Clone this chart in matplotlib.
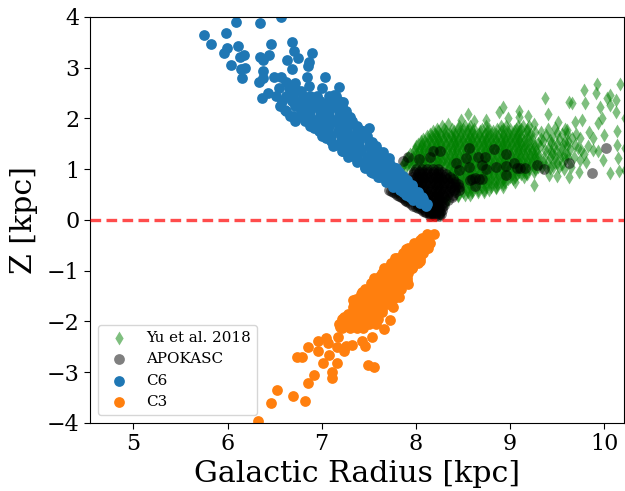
import matplotlib
matplotlib.use('Agg')
import matplotlib.pyplot as plt

# points: scattered ones as (R, Z), crowded ones as rows of R per Z
c6_sparse = [(5.75,3.65),(5.82,3.47),(5.98,3.69),(6.09,3.90),(6.34,3.88),(6.57,4.0),(6.11,3.43),(5.99,3.38),
             (5.96,3.29),(6.46,3.46),(6.69,3.51),(6.71,3.32),(6.75,3.19),(6.90,3.29),(6.87,3.12),(6.85,3.04),
             (6.63,3.15),(6.68,2.98),(6.17,3.25),(6.13,3.22),(6.44,3.25),(6.35,3.21),(6.38,3.15),(6.04,3.05),
             (6.14,2.97),(6.19,2.99),(6.15,2.79),(6.38,2.94),(6.38,2.79),(6.33,2.71),(6.49,2.81),(6.57,2.81),
             (6.84,2.81),(6.87,2.64),(7.03,2.81),(7.00,2.60),(7.18,2.62),(7.13,2.46),(6.43,2.51),(6.37,2.40),
             (7.23,2.33),(7.50,1.81),
             (6.61,2.17),(6.70,2.05),(6.82,1.99),(6.92,1.81),(7.05,1.62),(7.14,1.48),(7.23,1.36),(7.33,1.27),
             (7.46,1.02),(7.55,0.93),(7.62,0.85),(7.69,0.76),(7.76,0.68),(7.83,0.59),(7.90,0.49),(7.97,0.40),(8.04,0.33),
             (7.30,2.03),(7.41,1.77),(7.53,1.54),(7.65,1.34),(7.72,1.22),(7.79,1.02),(7.86,0.87),(7.91,0.78),(7.96,0.68),
             (8.02,0.55),(8.08,0.42),(8.12,0.32),
             (6.80,2.45),(6.88,2.45),(6.78,2.54),(6.72,2.70),(6.62,2.72),(6.96,2.36),(7.12,2.34)]
c6_core_z = [2.60,2.45,2.35,2.25,2.15,2.05,1.95,1.85,1.75,1.65,1.55,1.45,1.35,1.25,1.15,1.05,0.95,0.85,0.75,0.65,0.55,0.45,0.35,0.28]
c6_core_r = [[6.55,6.65,6.72],[6.52,6.62,6.70,6.95,7.08,7.15],[6.58,6.68,6.78,6.88,6.98,7.08,7.18],
             [6.56,6.72,6.82,6.92,7.02,7.12,7.22],[6.62,6.78,6.88,6.98,7.08,7.18,7.26],[6.66,6.78,6.88,6.98,7.08,7.18,7.28],
             [6.72,6.82,6.92,7.02,7.12,7.22,7.32],[6.88,6.98,7.08,7.18,7.28,7.38],[6.97,7.07,7.17,7.27,7.37,7.44],
             [7.00,7.10,7.20,7.30,7.40,7.48],[7.10,7.20,7.30,7.40,7.50],[7.12,7.20,7.30,7.40,7.50,7.58],
             [7.22,7.32,7.42,7.52,7.60],[7.28,7.38,7.48,7.58,7.66],[7.38,7.46,7.56,7.64,7.72],[7.46,7.54,7.62,7.70,7.76],
             [7.52,7.60,7.68,7.76,7.82],[7.60,7.68,7.76,7.84],[7.68,7.76,7.84,7.90],[7.76,7.84,7.92,7.96],
             [7.86,7.94,8.00],[7.94,8.02,8.06],[8.04,8.08],[8.11]]

c3_sparse = [(6.32,-3.96),(6.46,-3.60),(6.53,-3.34),(6.70,-3.47),(6.82,-3.56),(6.86,-3.22),(6.92,-3.05),(7.11,-3.11),
             (7.11,-2.99),(7.16,-2.81),(7.01,-2.81),(7.08,-2.66),(7.49,-2.86),(7.56,-2.90),(6.74,-2.70),(6.79,-2.69),
             (6.86,-2.50),(6.96,-2.59),(6.96,-2.38),(7.05,-2.32),(7.07,-2.43),(7.16,-2.50),(7.24,-2.59),(7.26,-2.48),
             (7.32,-2.46),(7.17,-2.31),(7.46,-2.48),(7.43,-2.38),(7.53,-2.30),(7.66,-2.15),(7.73,-1.98),(7.76,-1.72),
             (7.82,-1.52),(7.92,-1.27),
             (7.19,-2.10),(7.24,-1.92),(7.33,-1.72),(7.33,-1.58),(7.43,-1.42),(7.55,-1.26),(7.62,-1.10),(7.72,-0.92),
             (7.78,-0.75),(7.90,-0.58),(8.04,-0.40),(8.12,-0.32),(8.15,-0.45),(8.13,-0.55),(8.04,-0.80),(7.96,-0.95),
             (7.91,-1.20),(7.80,-1.42),(7.64,-1.81),(7.58,-1.97),(7.44,-2.10)]
c3_core_z = [-0.28,-0.35,-0.45,-0.55,-0.65,-0.75,-0.85,-0.95,-1.05,-1.15,-1.25,-1.35,-1.45,-1.55,-1.65,-1.75,-1.85,-1.95,-2.05,-2.12]
c3_core_r = [[8.19,8.12],[8.06,8.13],[7.98,8.06,8.13],[7.92,8.00,8.08,8.12],[7.86,7.94,8.02,8.08],[7.80,7.88,7.96,8.04],
             [7.74,7.82,7.90,7.98,8.02],[7.66,7.74,7.82,7.90,7.96],[7.64,7.72,7.80,7.88,7.92],[7.56,7.64,7.72,7.80,7.88,7.91],
             [7.52,7.60,7.68,7.76,7.84,7.90],[7.46,7.54,7.62,7.70,7.78,7.84],[7.42,7.50,7.58,7.66,7.74,7.80],
             [7.36,7.44,7.52,7.60,7.68,7.76],[7.34,7.42,7.50,7.58,7.66,7.72],[7.34,7.42,7.50,7.58,7.64],[7.28,7.36,7.44,7.52,7.60],
             [7.22,7.30,7.38,7.46,7.54,7.60],[7.18,7.26,7.34,7.42,7.50,7.58],[7.22,7.30,7.38,7.44]]

yu_sparse = [(9.37,2.40),(9.40,2.09),(9.51,1.94),(8.88,2.13),(8.93,2.23),(9.09,2.14),(9.19,2.04),(9.25,0.69),(8.85,0.64),
             (9.63,2.33),(9.66,2.30),(9.80,2.31),(9.79,2.56),(9.92,2.68),(9.91,2.51),(10.17,2.68),(10.06,2.46),(10.03,2.40),
             (10.12,2.37),(9.95,2.23),(10.06,2.27),(10.12,2.12),(10.22,2.00),(9.76,1.97),(9.69,1.93),(9.98,2.00),(9.93,1.91),
             (9.84,1.74),(9.61,1.77),(9.50,1.71),(9.33,1.74),(9.26,1.74),(10.00,1.68),(10.14,1.76),(9.88,1.61),(9.74,1.61),
             (9.69,1.48),(9.83,1.45),(9.58,1.54),(9.44,1.51),(9.42,1.25),(9.49,1.35),(9.37,1.38),(10.14,1.48),(10.22,1.41),
             (10.15,1.22),(9.99,1.18),(9.74,1.18),(9.53,1.22),(9.81,1.15),(9.88,1.38),(9.93,1.35),(10.06,0.93),(10.16,0.97),
             (10.22,0.99),(9.63,0.84),(9.73,0.95),(9.50,0.87),(9.41,0.89),(9.17,0.93),(9.34,1.05),(9.78,1.31),(9.60,1.31),
             (9.65,1.05),(9.33,1.60),(9.36,1.25),(9.40,1.40),(9.45,1.65),(9.47,1.15),(9.50,1.50),(9.52,1.05),(9.55,1.40),
             (9.58,1.20),(9.30,1.30),(9.32,1.10),(9.62,1.55),(9.45,1.30),(9.55,1.70),(9.57,1.00),(9.68,1.25),(9.70,1.70),
             (9.40,1.15),(9.60,1.70),(8.55,2.08),(7.80,0.55),(7.90,0.42),(8.00,0.30),(8.15,0.17),(8.26,0.12),(8.33,0.38),
             (8.48,1.98),(8.62,1.95),(8.34,1.90),(8.75,1.98),(9.10,2.02),(8.98,2.00),(9.25,1.90),(9.30,1.52),(8.33,0.42),(8.45,0.48),
             (9.32,1.45),(9.35,1.55),(9.38,1.68),(9.42,1.58),(9.43,1.35),(9.47,1.45),(9.48,1.25),(9.52,1.60),(9.53,1.32),(9.56,1.50),
             (9.57,1.28),(9.35,1.15),(9.38,1.05),(9.42,1.02),(9.46,1.05),(9.50,1.12),(9.55,1.10),(9.60,1.45),(9.62,1.22),(9.64,1.40),
             (9.72,1.42),(9.75,1.38),(9.66,1.62),(9.40,1.80),(9.48,1.82),(9.58,1.80)]
yu_core_z = [1.85,1.80,1.75,1.70,1.65,1.60,1.55,1.50,1.45,1.40,1.35,1.30,1.25,1.20,1.15,1.10,1.05,1.00,0.95,0.90,0.85,0.80,0.75,0.70,0.65,0.60,0.55,0.50]
yu_core_r = [[8.28,8.46,8.52,8.58,8.75,8.90,8.96,9.08,9.14,9.20],
             [8.22,8.30,8.38,8.45,8.50,8.56,8.62,8.70,8.78,8.86,8.93,9.00,9.06,9.12,9.18],
             [8.18,8.24,8.32,8.40,8.47,8.54,8.60,8.68,8.76,8.82,8.90,8.97,9.04,9.10,9.18],
             [8.15,8.20,8.26,8.31,8.36,8.42,8.49,8.55,8.62,8.67,8.73,8.79,8.85,8.92,8.99,9.04,9.10,9.16,9.22],
             [8.12,8.17,8.22,8.27,8.32,8.37,8.42,8.47,8.52,8.57,8.62,8.67,8.72,8.77,8.82,8.87,8.92,8.97,9.02,9.07,9.12,9.20],
             [8.08,8.14,8.19,8.24,8.29,8.35,8.40,8.45,8.50,8.55,8.60,8.65,8.70,8.75,8.80,8.85,8.90,8.95,9.00,9.05,9.10,9.16,9.23],
             [8.05,8.10,8.15,8.20,8.25,8.30,8.35,8.40,8.45,8.50,8.55,8.60,8.65,8.70,8.75,8.80,8.85,8.90,8.95,9.00,9.05,9.10,9.15,9.20],
             [8.02,8.07,8.12,8.17,8.22,8.27,8.32,8.37,8.42,8.47,8.52,8.57,8.62,8.67,8.72,8.77,8.82,8.87,8.92,8.97,9.02,9.07,9.12,9.17,9.24],
             [8.00,8.05,8.10,8.15,8.20,8.25,8.30,8.35,8.40,8.45,8.50,8.55,8.60,8.65,8.70,8.75,8.80,8.85,8.90,8.95,9.00,9.05,9.10,9.15,9.20,9.26],
             [7.99,8.04,8.09,8.14,8.19,8.24,8.29,8.34,8.39,8.44,8.49,8.54,8.59,8.64,8.69,8.74,8.79,8.84,8.89,8.94,8.99,9.04,9.09,9.14,9.19,9.24],
             [7.98,8.03,8.08,8.13,8.18,8.23,8.28,8.33,8.38,8.43,8.48,8.53,8.58,8.63,8.68,8.73,8.78,8.83,8.88,8.93,8.98,9.03,9.08,9.13,9.18,9.23,9.28],
             [7.94,8.00,8.05,8.10,8.15,8.20,8.25,8.30,8.35,8.40,8.45,8.50,8.55,8.60,8.65,8.70,8.75,8.80,8.85,8.90,8.95,9.00,9.05,9.10,9.15,9.20,9.25],
             [7.92,7.97,8.02,8.07,8.12,8.17,8.22,8.27,8.32,8.37,8.42,8.47,8.52,8.57,8.62,8.67,8.72,8.77,8.82,8.87,8.92,8.97,9.02,9.07,9.12,9.17,9.22,9.27,9.30],
             [7.90,7.95,8.00,8.05,8.10,8.15,8.20,8.25,8.30,8.35,8.40,8.45,8.50,8.55,8.60,8.65,8.70,8.75,8.80,8.85,8.90,8.95,9.00,9.05,9.10,9.15,9.20,9.25],
             [7.88,7.93,7.98,8.03,8.08,8.13,8.18,8.23,8.28,8.33,8.38,8.43,8.48,8.53,8.58,8.63,8.68,8.73,8.78,8.83,8.88,8.93,8.98,9.03,9.08,9.13,9.18,9.23,9.30],
             [7.86,7.91,7.96,8.01,8.06,8.11,8.16,8.21,8.26,8.31,8.36,8.41,8.46,8.51,8.56,8.61,8.66,8.71,8.76,8.81,8.86,8.91,8.96,9.01,9.06,9.11,9.16,9.21,9.27],
             [7.85,7.90,7.95,8.00,8.05,8.10,8.15,8.20,8.25,8.30,8.35,8.40,8.45,8.50,8.55,8.60,8.65,8.70,8.75,8.80,8.85,8.90,8.95,9.00,9.05,9.10,9.15,9.20,9.25,9.30],
             [8.35,8.40,8.45,8.50,8.55,8.60,8.65,8.70,8.75,8.80,8.85,8.90,8.95,9.00,9.05,9.10,9.15,9.20,9.26],
             [8.35,8.40,8.45,8.50,8.55,8.60,8.65,8.70,8.75,8.80,8.85,8.90,8.95,9.00,9.05,9.10,9.15,9.25],
             [8.37,8.42,8.47,8.52,8.57,8.62,8.67,8.72,8.77,8.82,8.87,8.92,8.97,9.02,9.07,9.12,9.18],
             [8.35,8.40,8.45,8.50,8.55,8.60,8.65,8.70,8.75,8.80,8.85,8.90,8.95,9.00,9.05,9.15],
             [8.40,8.46,8.52,8.58,8.63,8.68,8.74,8.80,8.86,8.92,8.98,9.03],
             [8.40,8.45,8.50,8.55,8.60,8.65,8.70,8.75,8.80,8.85,8.90,8.95,9.05],
             [8.44,8.50,8.56,8.62,8.68,8.74,8.80,8.86,8.92],
             [8.45,8.50,8.55,8.60,8.65,8.70,8.75,8.80,8.85,8.92],
             [8.48,8.54,8.60,8.66,8.72,8.78],
             [8.50,8.55,8.60,8.66,8.72],
             [8.45,8.52,8.58]]

apokasc_sparse = [(10.02,1.42),(9.87,0.93),(9.63,1.12),(9.36,1.00),(9.29,1.08),(9.16,1.02),(9.07,1.02),(8.96,0.89),(8.96,1.06),
                  (9.04,1.12),(8.85,1.05),(8.96,1.31),(8.83,1.40),(8.75,1.00),(8.73,1.24),(8.66,1.24),(8.70,1.08),(8.56,1.41),
                  (8.53,1.22),(8.26,1.36),(8.18,1.35),(8.15,1.24),(8.03,1.20),(7.92,1.25),(7.86,1.17),(8.43,1.12),(8.56,1.04),
                  (8.70,0.80),(8.63,0.82),(8.57,0.79),(8.63,0.66),(8.46,0.99),(9.11,1.02),(8.67,0.80),(8.60,0.80),
                  (7.72,0.59),(7.76,0.55),(7.80,0.50),(7.84,0.45),(7.88,0.40),(7.92,0.35),(7.97,0.28),(8.02,0.24),(8.08,0.18),(8.15,0.13),
                  (7.74,0.58),(7.78,0.53),(7.82,0.48),(7.86,0.43),(7.90,0.38),(7.95,0.31),(8.00,0.26),(8.05,0.21),(8.11,0.15),(8.18,0.12)]
apokasc_core_z = [1.00,0.95,0.90,0.85,0.80,0.75,0.70,0.65,0.60,0.55,0.50,0.45,0.40,0.35,0.30,0.25,0.20,0.15,0.12,0.08]
apokasc_core_r = [[8.00,8.06,8.12,8.18,8.24],
                  [7.98,8.03,8.08,8.13,8.18,8.23,8.28],
                  [7.97,8.02,8.07,8.12,8.17,8.22,8.27,8.32],
                  [7.96,8.01,8.06,8.11,8.16,8.21,8.26,8.31,8.36],
                  [7.98,8.03,8.08,8.13,8.18,8.23,8.28,8.33,8.39],
                  [8.00,8.05,8.10,8.15,8.20,8.25,8.30,8.35,8.42],
                  [8.00,8.05,8.10,8.15,8.20,8.25,8.30,8.35,8.40,8.45],
                  [8.02,8.07,8.12,8.17,8.22,8.27,8.32,8.37,8.42,8.46],
                  [8.00,8.06,8.11,8.16,8.21,8.26,8.31,8.36,8.41,8.46],
                  [8.00,8.05,8.10,8.15,8.20,8.25,8.30,8.35,8.42],
                  [8.03,8.08,8.13,8.18,8.23,8.28,8.33,8.39],
                  [8.00,8.05,8.10,8.15,8.20,8.25,8.30,8.38],
                  [8.03,8.08,8.13,8.18,8.23,8.28,8.34],
                  [8.00,8.05,8.10,8.15,8.20,8.25,8.30],
                  [8.02,8.07,8.12,8.17,8.22,8.27,8.30],
                  [8.05,8.10,8.15,8.20,8.25,8.28],
                  [8.10,8.15,8.20,8.25,8.28],
                  [8.10,8.15,8.20,8.26],
                  [8.15,8.20,8.25,8.27],
                  [8.15,8.20,8.25]]

x_ticks = [5, 6, 7, 8, 9, 10]
y_ticks = [-4, -3, -2, -1, 0, 1, 2, 3, 4]


def unpack(sparse, core_z, core_r):
    rs = [p[0] for p in sparse]
    zs = [p[1] for p in sparse]
    for z, row in zip(core_z, core_r):
        rs += row
        zs += [z] * len(row)
    return rs, zs


plt.rcParams['font.family'] = 'DejaVu Serif'

fig = plt.figure(figsize=(6.25, 4.91), dpi=100)
ax = fig.add_axes([0.144, 0.1385, 0.8544, 0.8269])

r, z = unpack(yu_sparse, yu_core_z, yu_core_r)
ax.scatter(r, z, s=50, c='green', marker='d', alpha=0.5, linewidths=0, label='Yu et al. 2018')
r, z = unpack(apokasc_sparse, apokasc_core_z, apokasc_core_r)
ax.scatter(r, z, s=60, c='k', alpha=0.5, linewidths=0, label='APOKASC')
r, z = unpack(c6_sparse, c6_core_z, c6_core_r)
ax.scatter(r, z, s=60, c='C0', linewidths=0, label='C6')
r, z = unpack(c3_sparse, c3_core_z, c3_core_r)
ax.scatter(r, z, s=60, c='C1', linewidths=0, label='C3')

ax.axhline(0, color='red', alpha=0.7, lw=2.4, dashes=(3.2, 1.6), zorder=5)

ax.set_xlim(4.54, 10.21)
ax.set_ylim(-4, 4)
ax.set_xticks(x_ticks)
ax.set_yticks(y_ticks)
ax.tick_params(labelsize=16, length=4)
ax.set_xlabel('Galactic Radius [kpc]', fontsize=21.6, labelpad=3)
ax.set_ylabel('Z [kpc]', fontsize=21.6, labelpad=6)
ax.legend(loc='lower left', fontsize=10.9)

fig.savefig('out.png', dpi=100)
